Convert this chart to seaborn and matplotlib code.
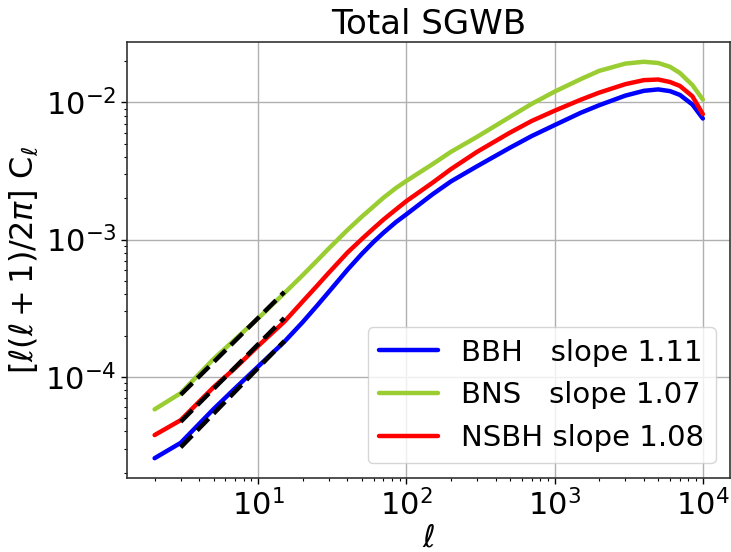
import numpy as np
import pandas as pd
import matplotlib
matplotlib.use("Agg")
import matplotlib.pyplot as plt
import seaborn as sns

# multipoles
ell = [2, 3, 5, 7, 10, 15, 20, 25, 30, 40, 50, 60, 70, 85, 100, 150, 200, 300, 500, 700,
       1000, 1500, 2000, 3000, 4000, 5000, 6000, 7000, 8500, 10000]

bbh = [2.55e-5, 3.30e-5, 5.82e-5, 8.26e-5, 1.19e-4, 1.80e-4, 2.51e-4, 3.31e-4, 4.17e-4,
       6.03e-4, 7.87e-4, 9.62e-4, 1.122e-3, 1.343e-3, 1.53e-3, 2.14e-3, 2.66e-3, 3.43e-3,
       4.68e-3, 5.69e-3, 6.84e-3, 8.41e-3, 9.55e-3, 1.122e-2, 1.216e-2, 1.245e-2,
       1.21e-2, 1.135e-2, 9.66e-3, 7.64e-3]
bns = [5.79e-5, 7.60e-5, 1.35e-4, 1.88e-4, 2.67e-4, 4.07e-4, 5.52e-4, 7.05e-4, 8.63e-4,
       1.175e-3, 1.47e-3, 1.746e-3, 2.02e-3, 2.38e-3, 2.68e-3, 3.55e-3, 4.37e-3, 5.62e-3,
       7.85e-3, 9.77e-3, 1.20e-2, 1.48e-2, 1.70e-2, 1.92e-2, 1.98e-2, 1.94e-2,
       1.82e-2, 1.64e-2, 1.34e-2, 1.05e-2]
nsbh = [3.76e-5, 4.83e-5, 8.40e-5, 1.16e-4, 1.68e-4, 2.52e-4, 3.55e-4, 4.62e-4, 5.75e-4,
        8.04e-4, 1.01e-3, 1.208e-3, 1.40e-3, 1.66e-3, 1.91e-3, 2.60e-3, 3.27e-3, 4.37e-3,
        6.03e-3, 7.33e-3, 8.71e-3, 1.047e-2, 1.18e-2, 1.36e-2, 1.455e-2, 1.47e-2,
        1.41e-2, 1.32e-2, 1.11e-2, 8.22e-3]

series_names = ["BBH", "BNS", "NSBH"]
legend_labels = ["BBH   slope 1.11", "BNS   slope 1.07", "NSBH slope 1.08"]
colors = ["blue", "yellowgreen", "red"]

# power-law fit segments (endpoints)
fit_ell = [3, 15]
fit_bbh = [3.06e-5, 1.82e-4]
fit_bns = [7.4e-5, 4.15e-4]
fit_nsbh = [4.7e-5, 2.68e-4]

sns.set_theme(style="ticks", rc={"text.color": "black", "axes.labelcolor": "black",
                                 "xtick.color": "black", "ytick.color": "black"})
plt.rcParams['font.family'] = ['DejaVu Sans']
plt.rcParams['mathtext.fontset'] = 'dejavusans'

df = pd.DataFrame({
    "ell": ell * 3,
    "value": bbh + bns + nsbh,
    "label": [legend_labels[0]] * len(ell) + [legend_labels[1]] * len(ell) + [legend_labels[2]] * len(ell),
})
fits = pd.DataFrame({
    "ell": fit_ell * 3,
    "value": fit_bbh + fit_bns + fit_nsbh,
    "name": ["BBH"] * 2 + ["BNS"] * 2 + ["NSBH"] * 2,
})

fig = plt.figure(figsize=(7.31, 5.52), dpi=100)
ax = fig.add_axes([0.174, 0.134, 0.825, 0.790])

sns.lineplot(data=df, x="ell", y="value", hue="label", palette=colors,
             linewidth=3.2, ax=ax, sort=False, estimator=None)
for nm in series_names:
    sub = fits[fits["name"] == nm]
    sns.lineplot(x=sub["ell"].values, y=sub["value"].values, color="black",
                 linestyle="--", linewidth=3.2, ax=ax, sort=False, estimator=None)

ax.set_xscale("log")
ax.set_yscale("log")
ax.grid(True, which="major", color="#b0b0b0", linewidth=1.0)
ax.set_title("Total SGWB", fontsize=24.5, color="black")
ax.set_xlabel(r"$\ell$", fontsize=22, labelpad=2)
ax.set_ylabel(r"$[\ell(\ell+1)/2\pi]$ C$_\ell$", fontsize=23)
ax.tick_params(axis="both", which="major", labelsize=22, length=4, width=1,
               colors="black")
ax.tick_params(axis="both", which="minor", length=2.5, width=0.8, colors="black")
for s in ax.spines.values():
    s.set_color("#333333")
    s.set_linewidth(1.2)

leg = ax.legend(loc="lower right", fontsize=21, frameon=True, handlelength=2.0)
for line in leg.get_lines():
    line.set_linewidth(3.2)

fig.savefig("out.png", dpi=100)
